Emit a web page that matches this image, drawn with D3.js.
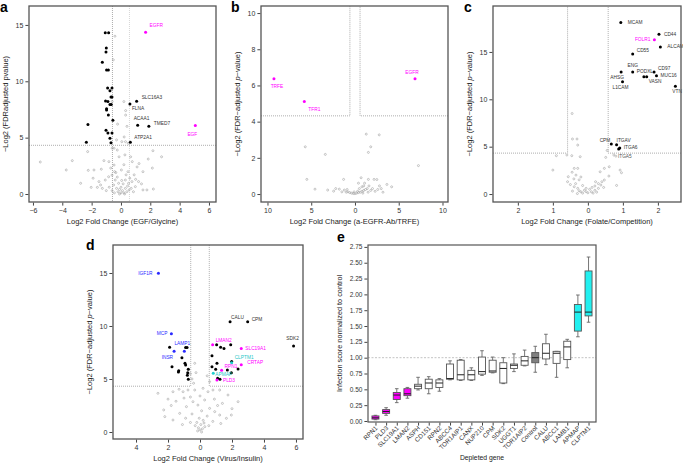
<!DOCTYPE html>
<html>
<head>
<meta charset="utf-8">
<script src="https://cdn.jsdelivr.net/npm/d3@7"></script>
<style>
body { margin: 0; background: #fff; }
text { font-family: "Liberation Sans", Arial, sans-serif; }
</style>
</head>
<body>
<script>
// ---------- data: panel a (EGF / Glycine) ----------
var aHitNames = ["EGFR", "EGF", "SLC16A3", "FLNA", "ACAA1", "TMED7", "ATP2A1"];
var aHitX = [1.68, 5.07, 1.07, 0.61, 1.14, 1.9, 0.64];
var aHitY = [14.35, 6.08, 8.24, 7.98, 6.1, 6.0, 4.6];
var aHitGroup = ["bait", "bait", "hit", "hit", "hit", "hit", "hit"];
var aSig = [[-1.07,14.3],[-0.84,14.3],[-1.0,12.95],[-1.02,12.6],[-1.27,11.7],[-0.98,11.0],[-0.86,11.0],
  [-0.91,9.4],[-0.61,9.4],[-0.75,9.15],[-0.68,8.6],[-0.61,8.6],[-1.05,8.25],[-0.89,8.2],[-0.75,7.95],
  [-0.66,7.95],[-0.98,7.56],[-0.98,7.45],[-0.86,7.0],[-0.55,6.55],[-2.25,6.17],[-1.02,5.66],[-0.89,5.42],
  [-0.61,5.42],[-0.75,4.95],[-2.36,4.6],[-0.68,4.54]];
var aBg = [[-0.41,14.0],[-0.52,11.9],[-0.6,8.2],[0.2,8.2],[0.32,7.4],[0.32,7.0],[-0.23,6.2],[0.41,6.0],
  [0.22,5.06],[0.06,4.64],[0.31,4.64],[-0.3,4.8],[0.5,4.5],[-0.6,4.06],[-0.47,4.06],[-0.25,3.9],[-2.27,3.76],
  [2.18,3.84],[-5.5,2.84],[-3.32,2.96],[2.77,3.3],[1.86,3.1],[-0.13,3.3],[0.66,3.3],[0.27,3.47],[-0.82,2.87],
  [-1.16,2.96],[-0.47,2.57],[0.77,2.87],[1.23,2.7],[-3.73,2.13],[-2.23,2.1],[-1.84,2.13],[-1.34,2.2],
  [-0.43,1.98],[0.03,2.13],[0.48,1.98],[1.5,1.98],[2.14,2.3],[-2.75,0.95],[-2.03,0.59],[-1.61,0.59],
  [-1.39,0.8],[-1.07,1.24],[-0.84,1.53],[-0.61,1.68],[-0.39,1.24],[-0.16,0.95],[0.3,1.24],[0.52,0.95],
  [0.75,1.1],[0.98,0.65],[1.2,1.1],[1.5,0.36],[1.77,0.36],[2.21,0.44],[-1.27,0.5],[-1.9,1.4],[0.9,1.7],
  [1.1,2.4],[-0.7,2.3],[0.2,2.6],[-1.0,0.3],[-0.8,0.6],[-0.5,0.8],[-0.3,0.5],[-0.2,0.2],[-0.1,0.4],
  [0.0,0.1],[0.0,0.6],[0.1,0.3],[0.15,0.9],[0.2,0.1],[0.3,0.5],[0.4,0.2],[0.45,0.7],[0.55,0.35],
  [0.6,1.4],[0.7,0.5],[-0.25,1.5],[-0.45,0.1],[-0.6,0.3],[-0.1,0.0],[0.25,0.0],[0.05,1.2],[-0.35,1.9],
  [0.35,1.7],[0.85,0.2],[1.0,1.3],[-1.5,1.1],[1.4,0.9]];

// ---------- data: panel b (a-EGFR-Ab / TRFE) ----------
var bHitNames = ["TRFE", "TFR1", "EGFR"];
var bHitX = [-9.26, -5.79, 6.86];
var bHitY = [6.37, 5.12, 6.37];
var bHitGroup = ["bait", "bait", "bait"];
var bBg = [[-5.68,2.61],[-3.39,2.19],[1.29,3.31],[2.77,3.27],[1.8,2.61],[1.53,2.3],[7.25,1.57],[-5.5,0.81],
  [-1.3,0.81],[0.7,0.9],[1.53,0.81],[2.18,0.81],[2.5,0.8],[3.65,0.53],[4.19,0.4],[-4.57,0.27],[-3.12,0.22],
  [-2.44,0.16],[-2.2,0.3],[-1.79,0.27],[-1.22,0.22],[-1.0,0.1],[-0.8,0.12],[-0.6,0.08],[-0.4,0.05],
  [-0.2,0.03],[0,0.02],[0.2,0.05],[0.4,0.08],[0.6,0.1],[0.8,0.15],[1.0,0.2],[1.2,0.25],[1.4,0.3],[0.8,0.4],
  [1.0,0.45],[1.5,0.1],[1.8,0.2],[2.0,0.3],[2.3,0.15],[2.6,0.25],[3.0,0.3],[3.2,0.1],[-1.5,0.12],[-0.9,0.25],
  [0.5,0.3],[1.1,0.6],[0.3,0.15],[-0.1,0.12],[0.9,0.05],[1.6,0.45],[2.8,0.45],[0.4,0.6]];

// ---------- data: panel c (Folate / Competition) ----------
var cHitNames = ["MCAM","CD44","FOLR1","ALCAM","CD55","ENG","AHSG","PODXL","VASN","CD97","MUC16","L1CAM","VTN","CPM","ITGAV","ITGA6","ITGA5"];
var cHitX = [0.94, 2.03, 1.9, 2.07, 1.28, 1.28, 0.95, 1.6, 1.68, 1.89, 1.96, 0.99, 2.5, 0.67, 0.82, 0.88, 0.8];
var cHitY = [18.1, 16.86, 16.3, 15.52, 14.78, 12.88, 12.88, 12.39, 12.39, 12.88, 12.5, 11.86, 11.37, 5.28, 5.2, 4.75, 4.0];
var cHitGroup = ["hit","hit","bait","hit","hit","hit","hit","hit","hit","hit","hit","hit","hit","hit","hit","hit","ns"];
var cSig = [[0.91, 4.87]];
var cBg = [[-0.45,8.5],[-0.44,5.81],[-0.31,5.81],[-0.29,5.17],[-0.9,4.05],[-0.6,4.12],[-0.46,4.05],[-0.22,3.94],
  [-1.0,2.53],[-0.56,1.83],[-0.39,2.71],[-0.29,2.71],[-0.34,2.0],[0.35,2.35],[0.47,2.71],[0.61,2.88],
  [0.92,2.53],[0.96,2.25],[0.82,0.91],[0.51,3.87],[0.74,4.12],[0.47,1.48],[0.4,1.3],[0.22,1.3],[-0.58,1.3],
  [-0.39,0.77],[-0.44,0.31],[-0.29,0.6],[-0.2,0.24],[-0.1,0.4],[0,0.13],[0.1,0.24],[0.2,0.4],[0.3,0.6],
  [0.37,0.95],[-0.5,1.0],[-0.35,1.1],[-0.25,1.5],[-0.15,0.9],[-0.05,0.6],[0.05,0.5],[0.15,0.1],[0.25,0.2],
  [-0.3,0.05],[-0.15,0.1],[-0.4,1.6],[-0.45,2.3],[0.55,4.6],[0.6,1.9],[0.3,1.1],[-0.2,1.8],[-0.05,0.25],
  [0.12,0.7],[-0.25,0.35],[0.45,0.7],[0.2,0.85]];

// ---------- data: panel d (Virus / Insulin) ----------
var dHitNames = ["IGF1R","MCP","INSR","LAMP1","CALU","CPM","SDK2","LMAN2","SLC19A1","CLPTM1","CRTAP","RPN1","APMAP","PLD3"];
var dHitX = [-2.6, -1.79, -1.62, -0.98, 1.88, 2.98, 5.85, 0.79, 2.58, 1.98, 2.58, 1.35, 0.83, 1.06];
var dHitY = [14.97, 9.27, 7.61, 7.61, 10.41, 10.41, 8.11, 8.23, 7.87, 6.53, 6.35, 5.82, 5.54, 4.91];
var dHitGroup = ["blue","blue","blue","blue","hit","hit","hit","bait","bait","cyan","bait","bait","cyan","bait"];
var dSig = [[-1.9,7.99],[-0.9,7.96],[-0.81,7.96],[-1.13,7.0],[-1.75,6.16],[-0.94,6.48],[-0.9,6.32],
  [-1.33,5.78],[-1.35,5.66],[-0.73,5.91],[-0.77,5.6],[-0.79,5.35],[-0.73,4.97],[1.04,8.23],[1.29,7.99],
  [1.5,7.87],[1.92,8.23],[0.75,7.2],[1.98,6.66],[1.06,6.48],[0.75,6.16],[0.98,5.91],[1.71,5.85],
  [2.38,5.94],[1.96,5.6],[1.1,5.06],[1.25,4.97]];
var dBg = [[-0.33,6.48],[-0.75,5.91],[-0.6,5.5],[-0.5,5.0],[-0.4,4.6],[0.6,4.75],[-0.25,5.6],[0.45,5.3],
  [-2.63,3.65],[-1.69,3.8],[-1.31,4.03],[-1.06,3.8],[-0.75,3.96],[-0.33,3.96],[0.19,4.12],[0.5,3.8],
  [0.81,3.96],[1.23,3.96],[1.75,3.49],[2.38,2.86],[-2.27,2.08],[-2.2,1.45],[-1.69,1.13],[-1.27,1.76],
  [-0.85,2.39],[-0.44,2.86],[-0.13,2.54],[0.29,3.02],[0.6,2.23],[0.92,1.92],[1.23,1.6],[1.65,1.29],
  [1.96,1.6],[-1.5,2.9],[-1.0,3.2],[-0.6,3.3],[0.0,3.4],[0.9,3.1],[1.4,2.7],[-1.8,2.5],[-0.9,1.3],
  [-0.5,1.7],[0.1,2.0],[0.45,1.5],[0.8,1.0],[1.1,2.5],[-0.2,0.9],[-0.1,0.4],[0,0.2],[0.05,0.7],
  [0.15,0.3],[0.2,1.1],[-0.3,0.6],[0.3,0.5],[-0.05,1.3],[0.1,0.0],[-0.15,0.1],[0.25,0.85],[-0.6,0.9],
  [0.55,0.6],[-1.1,0.7],[1.3,0.8],[-2.0,3.1],[2.0,2.2]];

// ---------- data: panel e (box plots) ----------
var eGenes = ["RPN1","PLD3","SLC19A1","LMAN2","ASPH","CD151","RPN2","ABCC4","TOR1AIP1","CANX","NUP210",
  "CPM","SDK2","UGGT1","TOR1AIP2","Control","CALU","ABCC1","LAMB1","APMAP","CLPTM1"];
var eMin = [0.02,0.09,0.29,0.36,0.49,0.43,0.47,0.65,0.64,0.64,0.72,0.76,0.59,0.78,0.87,0.77,0.89,0.69,0.84,1.33,1.56];
var eQ1  = [0.03,0.12,0.34,0.40,0.51,0.51,0.53,0.66,0.65,0.65,0.74,0.77,0.60,0.83,0.88,0.92,0.98,0.91,0.97,1.42,1.66];
var eMed = [0.05,0.15,0.41,0.43,0.55,0.60,0.60,0.67,0.73,0.73,0.78,0.79,0.83,0.88,0.95,1.00,1.07,1.07,1.17,1.72,1.72];
var eQ3  = [0.08,0.18,0.45,0.51,0.58,0.66,0.65,0.90,0.96,0.80,1.01,0.96,0.92,0.90,1.02,1.08,1.22,1.10,1.26,1.84,2.37];
var eMax = [0.09,0.21,0.51,0.53,0.69,0.70,0.67,0.95,0.97,0.84,1.11,1.01,1.00,1.06,1.12,1.18,1.37,1.10,1.29,1.99,2.59];
var eGroup = ["down","down","down","down","none","none","none","none","none","none","none",
  "none","none","none","none","control","none","none","none","up","up"];
var eTicks = [0,0.25,0.5,0.75,1,1.25,1.5,1.75,2,2.25,2.5,2.75];

var WIDTH = 683, HEIGHT = 463;
var POINT_COLORS = {bait: '#ff00ff', hit: '#000000', blue: '#2a2aff', cyan: '#1fd0d0', ns: '#999999'};
var LABEL_COLORS = {bait: '#ff00ff', hit: '#333333', blue: '#2a2aff', cyan: '#1fc8c8', ns: '#555555'};
var BOX_FILL = {down: '#ff00ff', none: '#ffffff', control: '#808080', up: '#22f0f0'};

var translate = function (x, y) { return "translate(" + x + "," + y + ")"; };

var svg = d3.select('body').append('svg')
    .attr('width', WIDTH)
    .attr('height', HEIGHT);

// label nudges in pixels: [dx, dy, anchor]
var nudge = {
  a: {EGFR: [4,-7,'start'], EGF: [-3,9,'middle'], SLC16A3: [5,-3,'start'], FLNA: [2,5,'start'],
      ACAA1: [-4,-7,'start'], TMED7: [5,-3,'start'], ATP2A1: [4,-4,'start']},
  b: {TRFE: [3,8,'middle'], TFR1: [10,8,'middle'], EGFR: [-3,-6,'middle']},
  c: {MCAM: [7,0,'start'], CD44: [5,0,'start'], FOLR1: [-4,0,'end'], ALCAM: [7,0,'start'],
      CD55: [4,-3,'start'], ENG: [0,-6,'middle'], AHSG: [-4,6,'middle'], PODXL: [1,-5,'middle'],
      VASN: [2,5,'start'], CD97: [4,-3,'start'], MUC16: [4,0,'start'], L1CAM: [-2,6,'middle'],
      VTN: [6.5,5,'end'], CPM: [-1,-3,'end'], ITGAV: [0,-4,'start'], ITGA6: [5,-1,'start'], ITGA5: [2,1,'start']},
  d: {IGF1R: [-6,0,'end'], MCP: [-4,0,'end'], INSR: [-1,6,'end'], LAMP1: [-2,-8,'middle'],
      CALU: [1,-4,'start'], CPM: [4,-1.5,'start'], SDK2: [-1,-7,'middle'], LMAN2: [3,-4,'start'],
      SLC19A1: [4,0,'start'], CLPTM1: [3,-5,'start'], CRTAP: [6,-1.5,'start'], RPN1: [3,-4,'start'],
      APMAP: [2,1,'start'], PLD3: [6,1,'start']}
};

var yTitle = function (g, tx, ty, short) {
  var t = g.append('text')
      .attr('transform', translate(tx, ty) + ' rotate(-90)')
      .attr('text-anchor', 'middle')
      .attr('font-size', 7.5)
      .attr('fill', '#222');
  if (short) {
    t.text('\u2212Log2 (FDRadjusted pvalue)');
  } else {
    t.append('tspan').text('\u2212Log2 (FDR\u2212adjusted ');
    t.append('tspan').attr('font-style', 'italic').text('p');
    t.append('tspan').text('\u2212value)');
  }
};

var styleAxis = function (sel) {
  sel.select('.domain').remove();
  sel.selectAll('line').attr('stroke', '#444');
  sel.selectAll('text').attr('font-size', 7).attr('fill', '#333')
     .attr('font-family', '"Liberation Sans", Arial, sans-serif');
};

var volcano = function (p) {
  var x = d3.scaleLinear().domain(p.xd).range([p.left, p.right]);
  var y = d3.scaleLinear().domain(p.yd).range([p.bottom, p.top]);
  var g = svg.append('g');

  // significance thresholds
  var lines = g.append('g').attr('stroke', '#999').attr('stroke-width', 0.8)
      .attr('stroke-dasharray', '1,1').attr('fill', 'none');
  var xl = x(-0.58), xr = x(0.58), yt = y(4.32);
  if (p.cross) {
    lines.append('line').attr('x1', xl).attr('x2', xl).attr('y1', p.top).attr('y2', p.bottom);
    lines.append('line').attr('x1', xr).attr('x2', xr).attr('y1', p.top).attr('y2', p.bottom)
        .attr('stroke', '#bbb').attr('stroke-dasharray', null).attr('stroke-width', 0.6);
    lines.append('line').attr('x1', p.left).attr('x2', p.right).attr('y1', yt).attr('y2', yt);
  } else {
    lines.append('path').attr('d', 'M' + p.left + ',' + yt + 'H' + xl + 'V' + p.top);
    lines.append('path').attr('d', 'M' + p.right + ',' + yt + 'H' + xr + 'V' + p.top);
  }

  g.append('g').selectAll('circle')
    .data(p.bg)
    .enter()
    .append('circle')
    .attr('cx', function (d) { return x(d[0]); })
    .attr('cy', function (d) { return y(d[1]); })
    .attr('r', 1)
    .attr('fill', 'none')
    .attr('stroke', '#9a9a9a')
    .attr('stroke-width', 0.55);

  g.append('g').selectAll('circle')
    .data(p.sig || [])
    .enter()
    .append('circle')
    .attr('cx', function (d) { return x(d[0]); })
    .attr('cy', function (d) { return y(d[1]); })
    .attr('r', 1.5)
    .attr('fill', '#000');

  var hits = p.names.map(function (n, i) {
    return {name: n, x: p.hx[i], y: p.hy[i], group: p.groups[i]};
  });
  g.append('g').selectAll('circle')
    .data(hits)
    .enter()
    .append('circle')
    .attr('cx', function (d) { return x(d.x); })
    .attr('cy', function (d) { return y(d.y); })
    .attr('r', function (d) { return d.group === 'ns' ? 1 : 1.5; })
    .attr('fill', function (d) { return d.group === 'ns' ? 'none' : POINT_COLORS[d.group]; })
    .attr('stroke', function (d) { return d.group === 'ns' ? '#9a9a9a' : 'none'; })
    .attr('stroke-width', 0.55);

  g.append('g').selectAll('text')
    .data(hits)
    .enter()
    .append('text')
    .attr('x', function (d) { return x(d.x) + p.nudge[d.name][0]; })
    .attr('y', function (d) { return y(d.y) + p.nudge[d.name][1]; })
    .attr('text-anchor', function (d) { return p.nudge[d.name][2]; })
    .attr('dominant-baseline', 'middle')
    .attr('font-size', 4.8)
    .attr('fill', function (d) { return LABEL_COLORS[d.group]; })
    .text(function (d) { return d.name; });

  // frame
  g.append('rect')
    .attr('x', p.left).attr('y', p.top)
    .attr('width', p.right - p.left).attr('height', p.bottom - p.top)
    .attr('fill', 'none').attr('stroke', '#555').attr('stroke-width', 1.3);

  var xAxis = d3.axisBottom(x).tickValues(p.xticks).tickSize(3).tickPadding(2).tickFormat(p.fmt);
  var yAxis = d3.axisLeft(y).tickValues(p.yticks).tickSize(3).tickPadding(2);
  g.append('g').attr('transform', translate(0, p.bottom + 0.6)).call(xAxis).call(styleAxis);
  g.append('g').attr('transform', translate(p.left - 0.6, 0)).call(yAxis).call(styleAxis);

  g.append('text')
    .attr('x', (p.left + p.right) / 2).attr('y', p.bottom + 22)
    .attr('text-anchor', 'middle').attr('font-size', 7.5).attr('fill', '#222')
    .text(p.xtitle);
  yTitle(g, p.left - 21, (p.top + p.bottom) / 2, p.shortTitle);

  svg.append('text')
    .attr('x', p.letterX).attr('y', p.letterY)
    .attr('font-size', 14).attr('font-weight', 'bold').attr('fill', '#000')
    .text(p.letter);
};

var absFmt = function (d) { return String(Math.abs(d)); };
var minusFmt = function (d) { return d < 0 ? '\u2212' + Math.abs(d) : String(d); };

volcano({letter: 'a', letterX: 0, letterY: 12, left: 29, right: 216, top: 6, bottom: 202,
  xd: [-6.27, 6.48], yd: [-0.71, 16.68], xticks: [-6,-4,-2,0,2,4,6], yticks: [0,5,10,15],
  fmt: minusFmt, cross: true, shortTitle: true, xtitle: 'Log2 Fold Change (EGF/Glycine)',
  bg: aBg, sig: aSig, names: aHitNames, hx: aHitX, hy: aHitY, groups: aHitGroup, nudge: nudge.a});

volcano({letter: 'b', letterX: 231, letterY: 12, left: 261, right: 448, top: 6, bottom: 202,
  xd: [-10.74, 10.63], yd: [-0.44, 10.39], xticks: [-10,-5,0,5,10], yticks: [0,2,4,6,8,10],
  fmt: absFmt, cross: false, xtitle: 'Log2 Fold Change (a-EGFR-Ab/TRFE)',
  bg: bBg, sig: [], names: bHitNames, hx: bHitX, hy: bHitY, groups: bHitGroup, nudge: nudge.b});

volcano({letter: 'c', letterX: 464, letterY: 12, left: 493, right: 681, top: 6, bottom: 202,
  xd: [-2.71, 2.66], yd: [-0.84, 19.85], xticks: [-2,-1,0,1,2], yticks: [0,5,10,15],
  fmt: absFmt, cross: false, xtitle: 'Log2 Fold Change (Folate/Competition)',
  bg: cBg, sig: cSig, names: cHitNames, hx: cHitX, hy: cHitY, groups: cHitGroup, nudge: nudge.c});

volcano({letter: 'd', letterX: 86, letterY: 250, left: 113, right: 303, top: 245, bottom: 439,
  xd: [-5.44, 6.44], yd: [-0.66, 17.64], xticks: [-4,-2,0,2,4,6], yticks: [0,5,10,15],
  fmt: absFmt, cross: false, xtitle: 'Log2 Fold Change (Virus/Insulin)',
  bg: dBg, sig: dSig, names: dHitNames, hx: dHitX, hy: dHitY, groups: dHitGroup, nudge: nudge.d});

// ---------- panel e ----------
var createBoxPanel = function () {
  var left = 368, right = 596, top = 245, bottom = 422;
  var x = d3.scalePoint().domain(eGenes).range([left, right]).padding(0.7);
  var y = d3.scaleLinear().domain([-0.016, 2.78]).range([bottom, top]);
  var g = svg.append('g');
  var BW = 7;

  g.append('line')
    .attr('x1', left).attr('x2', right).attr('y1', y(1)).attr('y2', y(1))
    .attr('stroke', '#aaa').attr('stroke-width', 0.7).attr('stroke-dasharray', '2,1.5');

  var boxes = eGenes.map(function (n, i) {
    return {name: n, min: eMin[i], q1: eQ1[i], med: eMed[i], q3: eQ3[i], max: eMax[i], group: eGroup[i]};
  });
  var bx = g.selectAll('g.box').data(boxes).enter().append('g').attr('class', 'box');
  bx.append('path')
    .attr('d', function (d) {
      var cx = x(d.name);
      return 'M' + cx + ',' + y(d.q3) + 'V' + y(d.max) + 'M' + (cx - 1.8) + ',' + y(d.max) + 'H' + (cx + 1.8) +
             'M' + cx + ',' + y(d.q1) + 'V' + y(d.min) + 'M' + (cx - 1.8) + ',' + y(d.min) + 'H' + (cx + 1.8);
    })
    .attr('stroke', '#666').attr('stroke-width', 0.9).attr('fill', 'none');
  bx.append('rect')
    .attr('x', function (d) { return x(d.name) - BW / 2; })
    .attr('y', function (d) { return y(d.q3); })
    .attr('width', BW)
    .attr('height', function (d) { return y(d.q1) - y(d.q3); })
    .attr('fill', function (d) { return BOX_FILL[d.group]; })
    .attr('stroke', '#555').attr('stroke-width', 0.9);
  bx.append('line')
    .attr('x1', function (d) { return x(d.name) - BW / 2; })
    .attr('x2', function (d) { return x(d.name) + BW / 2; })
    .attr('y1', function (d) { return y(d.med); })
    .attr('y2', function (d) { return y(d.med); })
    .attr('stroke', '#222').attr('stroke-width', 1);

  g.append('rect')
    .attr('x', left).attr('y', top).attr('width', right - left).attr('height', bottom - top)
    .attr('fill', 'none').attr('stroke', '#555').attr('stroke-width', 1.2);

  var yAxis = d3.axisLeft(y).tickValues(eTicks).tickSize(3).tickPadding(2).tickFormat(d3.format('.2f'));
  g.append('g').attr('transform', translate(left - 0.6, 0)).call(yAxis).call(styleAxis);
  g.selectAll('.tick text').attr('font-size', 6.5);

  var xAxis = d3.axisBottom(x).tickSize(3).tickPadding(2);
  var xg = g.append('g').attr('transform', translate(0, bottom + 0.6)).call(xAxis).call(styleAxis);
  xg.selectAll('text')
    .attr('font-size', 6.3)
    .attr('text-anchor', 'end')
    .attr('dy', null)
    .attr('y', 0)
    .attr('transform', 'translate(2,6) rotate(-45)');

  g.append('text')
    .attr('x', (left + right) / 2).attr('y', 460)
    .attr('text-anchor', 'middle').attr('font-size', 6.8).attr('fill', '#222')
    .text('Depleted gene');
  g.append('text')
    .attr('transform', translate(342, (top + bottom) / 2) + ' rotate(-90)')
    .attr('text-anchor', 'middle').attr('font-size', 7.3).attr('fill', '#222')
    .text('Infection score normalized to control');

  svg.append('text')
    .attr('x', 337).attr('y', 242)
    .attr('font-size', 14).attr('font-weight', 'bold').attr('fill', '#000')
    .text('e');
};

createBoxPanel();
</script>
</body>
</html>
